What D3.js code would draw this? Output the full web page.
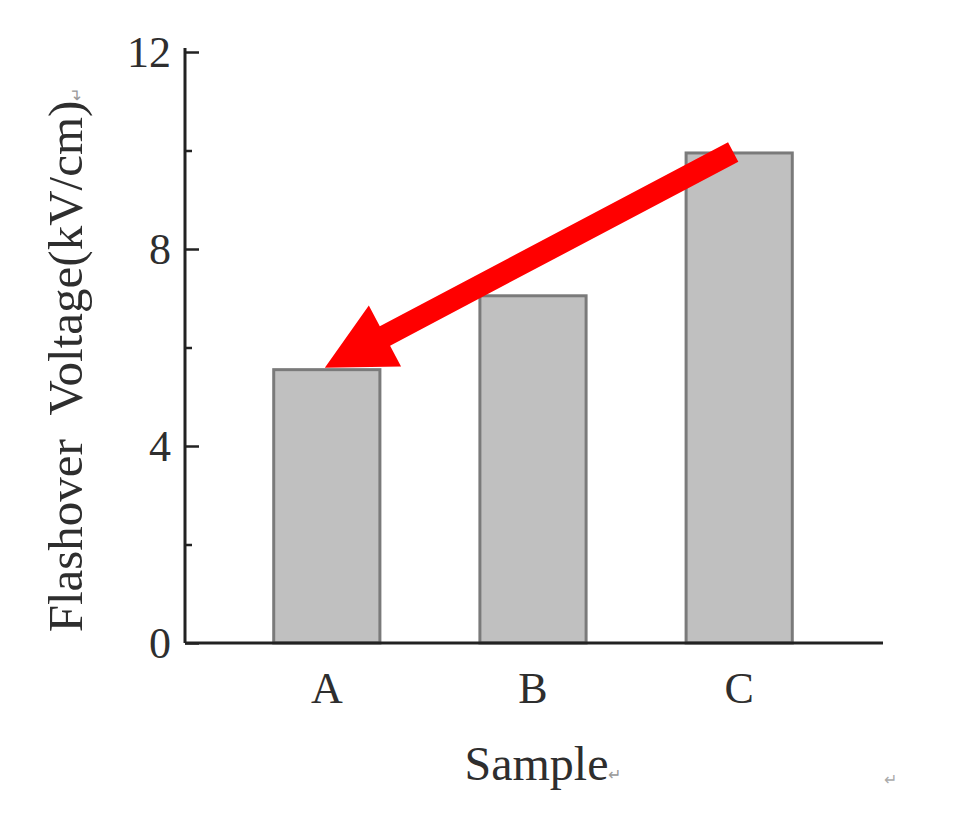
<!DOCTYPE html>
<html><head><meta charset="utf-8">
<script src="https://cdn.jsdelivr.net/npm/d3@7"></script>
<style>body{margin:0;background:#fff}svg{display:block}</style>
</head><body>
<script>
const categories = ["A", "B", "C"];
const values = [5.55, 7.05, 9.95];
const yTicks = [0, 4, 8, 12];
const yMinorTicks = [2, 6, 10];
const xTitle = "Sample";
const yTitle = "Flashover  Voltage(kV/cm)";
const arrowFrom = {cat: "C", v: 9.97};
const arrowTo = {cat: "A", v: 5.55};

const W = 965, H = 819;
const mLeft = 185, mRight = 883, mTop = 52, mBottom = 643;
const font = "'Liberation Serif','Times New Roman',serif";

const svg = d3.select("body").append("svg").attr("width", W).attr("height", H);

const x = d3.scaleBand().domain(categories).range([mLeft - 2, mRight]).paddingInner(0.485).paddingOuter(0.44);
const y = d3.scaleLinear().domain([0, 12]).range([mBottom, mTop]);

// bars
svg.selectAll("rect.bar").data(values).join("rect")
  .attr("class", "bar")
  .attr("x", (d, i) => x(categories[i]))
  .attr("width", x.bandwidth())
  .attr("y", d => y(d))
  .attr("height", d => y(0) - y(d))
  .attr("fill", "#c0c0c0")
  .attr("stroke", "#7a7a7a")
  .attr("stroke-width", 3);

// y axis (ticks inside)
const yAxis = d3.axisRight(y).tickValues(yTicks).tickSize(14).tickFormat("");
const gy = svg.append("g").attr("transform", `translate(${mLeft},0)`).call(yAxis);
gy.select(".domain").attr("stroke", "#222").attr("stroke-width", 3).attr("d", `M0,${mTop - 4}V${mBottom}`);
gy.selectAll(".tick line").attr("stroke", "#222").attr("stroke-width", 2.5);
const yMinor = d3.axisRight(y).tickValues(yMinorTicks).tickSize(7).tickFormat("");
const gy2 = svg.append("g").attr("transform", `translate(${mLeft},0)`).call(yMinor);
gy2.select(".domain").remove();
gy2.selectAll(".tick line").attr("stroke", "#222").attr("stroke-width", 2.5);

// y tick labels
svg.selectAll("text.ylab").data(yTicks).join("text")
  .attr("class", "ylab")
  .attr("x", mLeft - 14).attr("y", d => y(d))
  .attr("dy", "0.35em")
  .attr("text-anchor", "end")
  .attr("font-family", font).attr("font-size", 44).attr("fill", "#2e2e2e")
  .text(d => d);

// x axis
const xAxis = d3.axisBottom(x).tickSize(0).tickFormat("");
const gx = svg.append("g").attr("transform", `translate(0,${mBottom})`).call(xAxis);
gx.select(".domain").attr("stroke", "#222").attr("stroke-width", 3).attr("d", `M${mLeft},0H${mRight}`);

svg.selectAll("text.xlab").data(categories).join("text")
  .attr("class", "xlab")
  .attr("x", d => x(d) + x.bandwidth() / 2).attr("y", 703)
  .attr("text-anchor", "middle")
  .attr("font-family", font).attr("font-size", 44).attr("fill", "#2e2e2e")
  .text(d => d);

// x title
const xt = svg.append("text")
  .attr("x", 543).attr("y", 780)
  .attr("text-anchor", "middle")
  .attr("font-family", font).attr("font-size", 48).attr("fill", "#2e2e2e");
xt.append("tspan").text(xTitle);
xt.append("tspan").attr("font-size", 16).attr("fill", "#999").text("↵");

// y title
const yt = svg.append("text")
  .attr("transform", "translate(82,360) rotate(-90)")
  .attr("text-anchor", "middle")
  .attr("font-family", font).attr("font-size", 49).attr("fill", "#2e2e2e")
  .style("white-space", "pre");
yt.append("tspan").text(yTitle);
yt.append("tspan").attr("font-size", 16).attr("fill", "#999").text("↵");

// stray paragraph mark
svg.append("text").attr("x", 884).attr("y", 785)
  .attr("font-family", font).attr("font-size", 16).attr("fill", "#aaa").text("↵");

// red arrow annotation
const x0 = x(arrowFrom.cat) + x.bandwidth() / 2 - 6, y0 = y(arrowFrom.v);
const x1 = x(arrowTo.cat) + x.bandwidth() / 2 - 2, y1 = y(arrowTo.v) - 2;
const dx = x1 - x0, dy = y1 - y0, L = Math.hypot(dx, dy);
const ux = dx / L, uy = dy / L, px = -uy, py = ux;
const sw = 11, hw = 34.5, hl = 68;
const bx = x1 - ux * hl, by = y1 - uy * hl;
const pts = [
  [x0 + px * sw, y0 + py * sw],
  [bx + px * sw, by + py * sw],
  [bx + px * hw, by + py * hw],
  [x1, y1],
  [bx - px * hw, by - py * hw],
  [bx - px * sw, by - py * sw],
  [x0 - px * sw, y0 - py * sw]
];
svg.append("path").attr("d", d3.line()(pts) + "Z").attr("fill", "#ff0000");
</script>
</body></html>
